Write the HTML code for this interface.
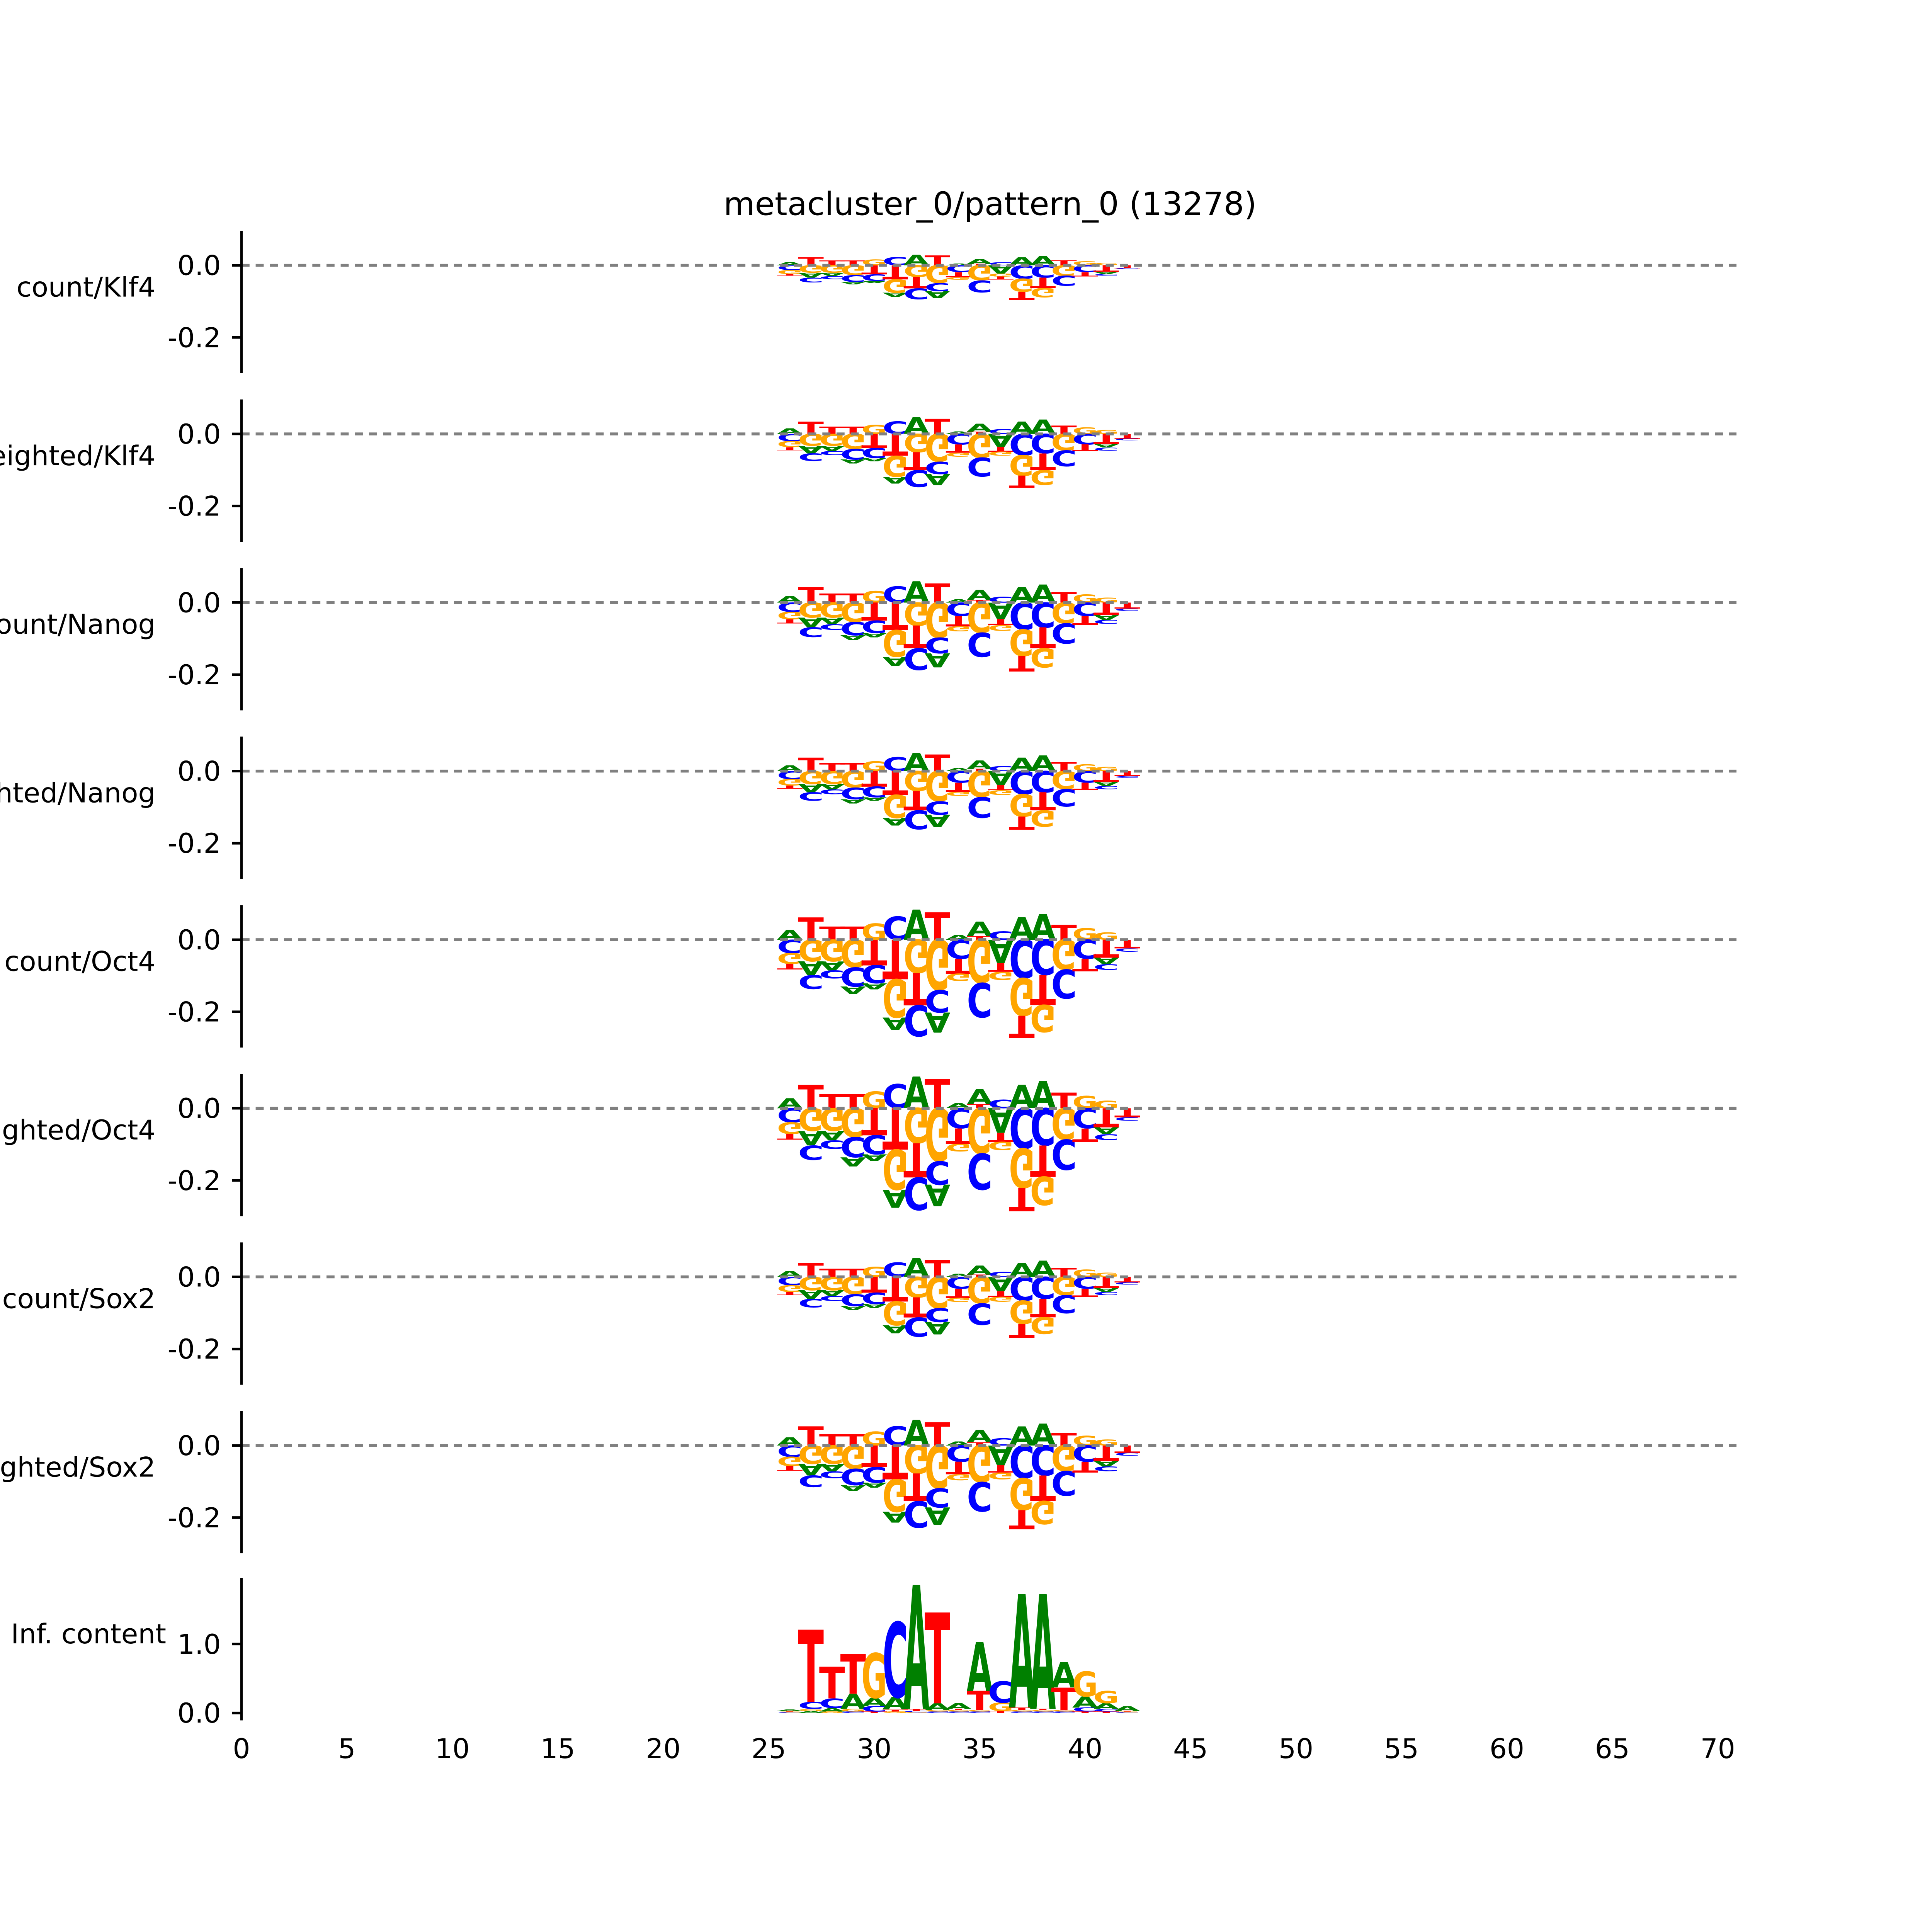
<!DOCTYPE html>
<html><head><meta charset="utf-8"><style>
html,body{margin:0;padding:0;background:#fff;}
svg{display:block;}
text{font-family:"DejaVu Sans","Liberation Sans",sans-serif;}
</style></head><body>
<svg id="fig" width="6000" height="6000" viewBox="0 0 6000 6000" xmlns="http://www.w3.org/2000/svg">
<rect width="6000" height="6000" fill="#fff"/>
<g transform="scale(0.8333)">
<text x="3075" y="668" font-size="100" text-anchor="middle">metacluster_0/pattern_0 (13278)</text>
<g id="plots"></g>
</g>
</svg>
<script>
// positions 26..42
const positions = [26,27,28,29,30,31,32,33,34,35,36,37,38,39,40,41,42];
const panelLabels = ["count/Klf4","weighted/Klf4","count/Nanog","weighted/Nanog","count/Oct4","weighted/Oct4","count/Sox2","weighted/Sox2"];
const yTicks = [0.0,-0.2];
const yTickLabels = ["0.0","-0.2"];
const icTicks = [0.0,1.0];
const icTickLabels = ["0.0","1.0"];
const xTicks = [0,5,10,15,20,25,30,35,40,45,50,55,60,65,70];

const klf4CountA = [.009,-.013,-.009,-.007,-.006,-.012,.029,-.02,.005,.014,-.023,.022,.025,0,0,-.006,0];
const klf4CountC = [-.013,-.013,-.008,-.019,-.018,.022,-.03,-.022,-.019,-.033,.008,-.037,-.034,-.028,-.019,-.005,-.003];
const klf4CountG = [-.011,-.021,-.021,-.027,.016,-.037,-.032,-.049,-.007,-.042,-.008,-.036,-.026,-.029,.011,.007,0];
const klf4CountT = [-.005,.022,.013,.013,-.025,-.039,-.032,.027,-.014,.004,-.008,-.022,-.029,.014,-.012,-.018,-.008];

const klf4WeightedA = [.015,-.021,-.014,-.011,-.009,-.019,.046,-.031,.007,.022,-.036,.034,.04,0,0,-.01,0];
const klf4WeightedC = [-.02,-.021,-.012,-.029,-.028,.035,-.047,-.034,-.029,-.052,.013,-.059,-.054,-.044,-.029,-.008,-.005];
const klf4WeightedG = [-.017,-.033,-.033,-.042,.025,-.058,-.051,-.077,-.011,-.066,-.012,-.057,-.041,-.046,.018,.011,0];
const klf4WeightedT = [-.008,.034,.02,.02,-.039,-.061,-.05,.042,-.023,.006,-.013,-.034,-.046,.023,-.019,-.028,-.013];

const nanogCountA = [.019,-.027,-.018,-.014,-.012,-.025,.059,-.039,.009,.028,-.046,.043,.05,0,0,-.013,0];
const nanogCountC = [-.026,-.027,-.015,-.037,-.035,.045,-.06,-.043,-.037,-.067,.016,-.075,-.069,-.056,-.037,-.011,-.006];
const nanogCountG = [-.021,-.042,-.042,-.054,.032,-.074,-.064,-.098,-.014,-.084,-.015,-.073,-.053,-.058,.022,.014,0];
const nanogCountT = [-.011,.043,.025,.025,-.05,-.077,-.063,.053,-.029,.007,-.017,-.043,-.058,.029,-.025,-.035,-.017];

const nanogWeightedA = [.016,-.023,-.015,-.012,-.01,-.021,.05,-.034,.008,.024,-.039,.037,.043,0,0,-.011,0];
const nanogWeightedC = [-.022,-.023,-.013,-.032,-.03,.038,-.052,-.037,-.032,-.057,.014,-.064,-.059,-.048,-.032,-.009,-.005];
const nanogWeightedG = [-.018,-.036,-.036,-.046,.027,-.064,-.055,-.084,-.012,-.072,-.013,-.062,-.045,-.05,.019,.012,0];
const nanogWeightedT = [-.009,.037,.022,.022,-.043,-.066,-.054,.046,-.025,.006,-.014,-.037,-.05,.025,-.021,-.03,-.014];

const oct4CountA = [.027,-.038,-.025,-.02,-.017,-.035,.084,-.056,.013,.040,-.065,.062,.072,0,0,-.018,0];
const oct4CountC = [-.037,-.038,-.022,-.053,-.05,.064,-.086,-.062,-.053,-.095,.023,-.107,-.098,-.08,-.053,-.015,-.009];
const oct4CountG = [-.03,-.06,-.06,-.077,.045,-.106,-.092,-.14,-.02,-.12,-.022,-.104,-.075,-.083,.032,.02,0];
const oct4CountT = [-.015,.062,.036,.036,-.071,-.11,-.09,.076,-.041,.01,-.024,-.062,-.083,.041,-.035,-.05,-.024];

const oct4WeightedA = [.028,-.04,-.026,-.025,-.018,-.05,.088,-.06,.014,.042,-.068,.065,.075,0,0,-.019,0];
const oct4WeightedC = [-.039,-.04,-.023,-.056,-.053,.067,-.09,-.065,-.056,-.1,.024,-.112,-.103,-.084,-.056,-.016,-.01];
const oct4WeightedG = [-.032,-.063,-.063,-.08,.047,-.111,-.097,-.147,-.021,-.126,-.023,-.109,-.079,-.087,.034,.021,0];
const oct4WeightedT = [-.016,.065,.038,.038,-.075,-.115,-.095,.08,-.043,.011,-.025,-.065,-.087,.043,-.037,-.053,-.025];

const sox2CountA = [.017,-.024,-.016,-.012,-.011,-.022,.052,-.035,.008,.025,-.04,.039,.045,0,0,-.011,0];
const sox2CountC = [-.023,-.024,-.014,-.033,-.031,.04,-.053,-.038,-.033,-.059,.014,-.066,-.061,-.05,-.033,-.009,-.006];
const sox2CountG = [-.019,-.037,-.037,-.048,.028,-.066,-.057,-.087,-.012,-.074,-.014,-.064,-.047,-.051,.02,.012,0];
const sox2CountT = [-.009,.038,.022,.022,-.044,-.068,-.056,.047,-.025,.006,-.015,-.038,-.051,.025,-.022,-.031,-.015];

const sox2WeightedA = [.023,-.032,-.021,-.017,-.014,-.03,.071,-.048,.011,.034,-.055,.053,.061,0,0,-.015,0];
const sox2WeightedC = [-.031,-.032,-.019,-.045,-.043,.054,-.073,-.053,-.045,-.081,.02,-.091,-.083,-.068,-.045,-.013,-.008];
const sox2WeightedG = [-.026,-.051,-.051,-.065,.038,-.09,-.078,-.119,-.017,-.102,-.019,-.088,-.064,-.071,.027,.017,0];
const sox2WeightedT = [-.013,.053,.031,.031,-.06,-.094,-.077,.065,-.035,.009,-.02,-.053,-.071,.035,-.03,-.043,-.02];

const icA = [.02,.03,.05,.22,.12,.18,1.8,.1,.08,.71,0,1.65,1.67,.37,.16,.08,.07];
const icC = [.01,.1,.14,.02,.08,1.09,.02,.02,.02,.02,.31,.02,.02,.02,.06,.04,.01];
const icG = [.01,.03,.02,.04,.65,.02,.01,.02,.02,.02,.12,.02,.02,.02,.36,.18,.01];
const icT = [.01,1.05,.46,.58,.02,.03,.03,1.32,.02,.28,.03,.04,.02,.33,.02,.02,.01];

const panelData = [
 [klf4CountA,klf4CountC,klf4CountG,klf4CountT],
 [klf4WeightedA,klf4WeightedC,klf4WeightedG,klf4WeightedT],
 [nanogCountA,nanogCountC,nanogCountG,nanogCountT],
 [nanogWeightedA,nanogWeightedC,nanogWeightedG,nanogWeightedT],
 [oct4CountA,oct4CountC,oct4CountG,oct4CountT],
 [oct4WeightedA,oct4WeightedC,oct4WeightedG,oct4WeightedT],
 [sox2CountA,sox2CountC,sox2CountG,sox2CountT],
 [sox2WeightedA,sox2WeightedC,sox2WeightedG,sox2WeightedT]
];
const icData = [icA,icC,icG,icT];

const NS = "http://www.w3.org/2000/svg";
const LETTERS = ["A","C","G","T"];
const COLORS = ["#008000","#0000ff","#ffa500","#ff0000"];
const plots = document.getElementById("plots");
function xScale(v){ return 750 + v*65.5; }
const LW = 80;

function mk(tag, attrs, parent){
  const e = document.createElementNS(NS, tag);
  for (const k in attrs) e.setAttribute(k, attrs[k]);
  parent.appendChild(e);
  return e;
}
function drawLetter(g, li, cx, yStart, hPx, neg){
  if (hPx < 0.6) return;
  const t = mk("text", {x:0, y:0, "font-size":100, "font-weight":"bold", fill:COLORS[li], textLength:70, lengthAdjust:"spacingAndGlyphs"}, g);
  
  
  t.textContent = LETTERS[li];
  const sx = LW/70, sy = hPx/73;
  if (!neg) t.setAttribute("transform", `translate(${cx-LW/2},${yStart}) scale(${sx},${sy})`);
  else t.setAttribute("transform", `translate(${cx-LW/2},${yStart}) scale(${sx},${-sy})`);
}
function drawLogo(g, data, y0, pxPerUnit){
  positions.forEach((p, i) => {
    const cx = xScale(p);
    const pos = [], neg = [];
    for (let l=0;l<4;l++){ const v = data[l][i]; if (v>0) pos.push([l,v]); else if (v<0) neg.push([l,-v]); }
    pos.sort((a,b)=>a[1]-b[1]);
    neg.sort((a,b)=>b[1]-a[1]);
    let y = y0;
    pos.forEach(([l,v]) => { const h=v*pxPerUnit; drawLetter(g,l,cx,y,h,false); y -= h; });
    y = y0;
    neg.forEach(([l,v]) => { const h=v*pxPerUnit; drawLetter(g,l,cx,y,h,true); y += h; });
  });
}
function yAxis(g, top, bottom){
  const s = mk("line",{x1:750,y1:top,x2:750,y2:bottom,stroke:"#000","stroke-width":8},g);
  
  
}
function yTick(g, y, label){
  const t = mk("line",{x1:721,y1:y,x2:750,y2:y,stroke:"#000","stroke-width":8},g);
  
  
  const tx = mk("text",{x:686,y:y+30,"font-size":85,"text-anchor":"end",fill:"#000"},g);
  
  
  tx.textContent = label;
}

const CPU = 1120;
panelLabels.forEach((lab, k) => {
  const y0 = 824 + k*523.6;
  const g = mk("g",{},plots);
  
  
  drawLogo(g, panelData[k], y0, CPU);
  const dl = mk("line",{x1:750,y1:y0,x2:5393,y2:y0,stroke:"#808080","stroke-width":9,"stroke-dasharray":"25 19"},g);
  
  
  yAxis(g, y0-107, y0+335);
  yTicks.forEach((v,j)=> yTick(g, y0 - v*CPU, yTickLabels[j]));
  const lt = mk("text",{x:483,y:y0+97,"font-size":85,"text-anchor":"end",fill:"#000"},g);
  
  
  lt.textContent = lab;
});

(function(){
  const y0 = 5320, IPU = 214;
  const g = mk("g",{},plots);
  
  
  drawLogo(g, icData, y0, IPU);
  yAxis(g, 4901, 5343);
  icTicks.forEach((v,j)=> yTick(g, y0 - v*IPU, icTickLabels[j]));
  const lt = mk("text",{x:516,y:5104,"font-size":85,"text-anchor":"end",fill:"#000"},g);
  
  
  lt.textContent = "Inf. content";
  xTicks.forEach(v => {
    const t = mk("text",{x:xScale(v),y:5460,"font-size":85,"text-anchor":"middle",fill:"#000"},g);
    
    
    t.textContent = String(v);
  });
})();
</script>
</body></html>
